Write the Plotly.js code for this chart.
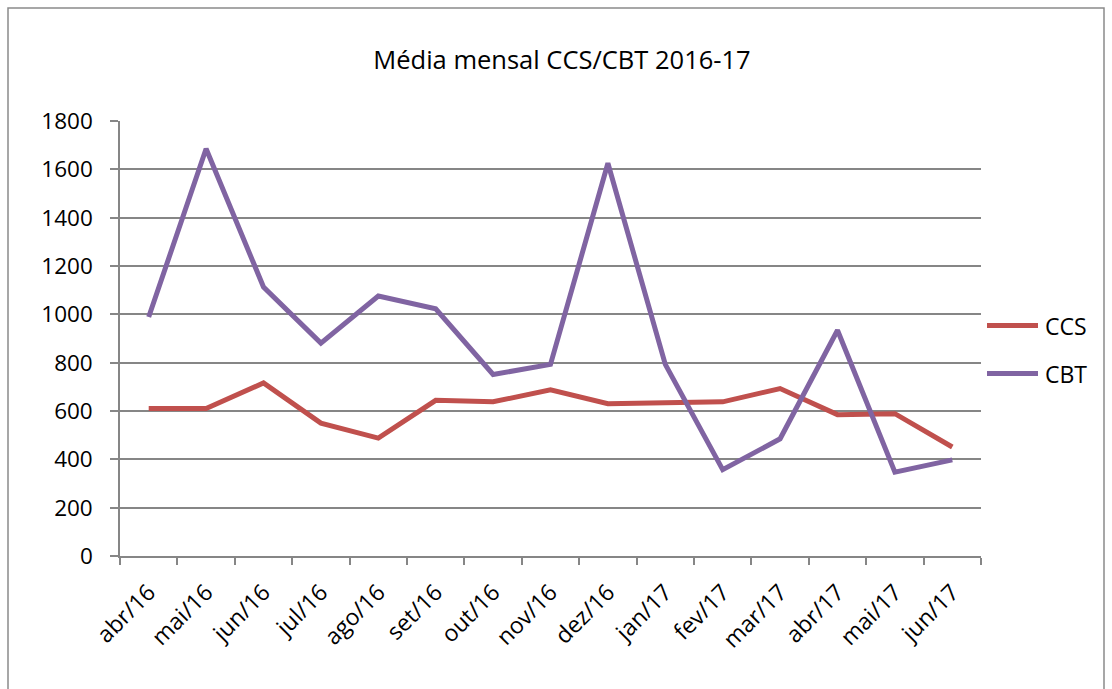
<!DOCTYPE html>
<html>
<head>
<meta charset="utf-8">
<script src="https://cdn.plot.ly/plotly-3.0.1.min.js"></script>
<style>
  html, body { margin: 0; padding: 0; background: #fff; }
  #chart { width: 1112px; height: 689px; }
</style>
</head>
<body>
<div id="chart"></div>
<script>
// Monthly averages, April 2016 to June 2017
const months = ["abr/16", "mai/16", "jun/16", "jul/16", "ago/16", "set/16", "out/16", "nov/16",
                "dez/16", "jan/17", "fev/17", "mar/17", "abr/17", "mai/17", "jun/17"];
const seriesNames = ["CCS", "CBT"];
const ccs = [610, 610, 716, 550, 488, 644, 638, 688, 630, 633, 638, 693, 585, 589, 451];
const cbt = [989, 1685, 1113, 881, 1076, 1023, 751, 793, 1625, 793, 357, 485, 934, 347, 398];
const yTicks = [0, 200, 400, 600, 800, 1000, 1200, 1400, 1600, 1800];
const chartTitle = "Média mensal CCS/CBT 2016-17";

const colors = ["#C0504D", "#8064A2"];
const FONT = "Open Sans, Liberation Sans, sans-serif";
const gridGray = "#868686";

const W = 1112, H = 689;
const margin = { l: 120, r: 131, t: 121, b: 133 };
const plotW = W - margin.l - margin.r;
const plotH = H - margin.t - margin.b;
// convert page pixels to paper coordinates
const px = x => (x - margin.l) / plotW;
const py = y => (H - margin.b - y) / plotH;

const traces = [ccs, cbt].map((vals, i) => ({
  type: "scatter",
  mode: "lines",
  name: seriesNames[i],
  x: months,
  y: vals,
  line: { color: colors[i], width: 5, shape: "linear" },
  hoverinfo: "x+y+name",
  showlegend: false
}));

// legend drawn as short line swatches with labels on the right
const legendY = [325.5, 373.5];
const shapes = [
  // outer chart frame
  { type: "rect", xref: "paper", yref: "paper",
    x0: px(8), x1: px(1104), y0: py(700), y1: py(8),
    line: { color: "#8a8a8a", width: 1.5 }, fillcolor: "rgba(0,0,0,0)", layer: "below" }
];
const annotations = [];
seriesNames.forEach((name, i) => {
  shapes.push({ type: "line", xref: "paper", yref: "paper",
    x0: px(987), x1: px(1038), y0: py(legendY[i]), y1: py(legendY[i]),
    line: { color: colors[i], width: 5 } });
  annotations.push({ xref: "paper", yref: "paper", x: px(1043), y: py(legendY[i]),
    xanchor: "left", yanchor: "middle", showarrow: false, text: name,
    font: { family: FONT, size: 23, color: "#000" } });
});

const layout = {
  width: W, height: H,
  margin: margin,
  paper_bgcolor: "#fff",
  plot_bgcolor: "#fff",
  showlegend: false,
  title: {
    text: chartTitle,
    xref: "container", yref: "container",
    x: 562 / W, y: 1 - 60 / H, xanchor: "center", yanchor: "middle",
    font: { family: FONT, size: 25.5, color: "#000" }
  },
  xaxis: {
    type: "category",
    range: [-0.5, months.length - 0.5],
    tickson: "boundaries",
    ticks: "outside", ticklen: 7, tickwidth: 1.5, tickcolor: gridGray,
    ticklabelstandoff: 12,
    showline: true, linecolor: gridGray, linewidth: 1.5,
    showgrid: false, zeroline: false,
    tickangle: -45,
    tickfont: { family: FONT, size: 23, color: "#000" },
    fixedrange: true
  },
  yaxis: {
    range: [0, 1800],
    tickmode: "array", tickvals: yTicks, ticktext: yTicks.map(String),
    ticks: "outside", ticklen: 8, tickwidth: 1.5, tickcolor: gridGray,
    ticklabelstandoff: 13,
    showline: true, linecolor: gridGray, linewidth: 1.5,
    showgrid: true, gridcolor: gridGray, gridwidth: 1.5,
    zeroline: false,
    tickfont: { family: FONT, size: 22.5, color: "#000" },
    fixedrange: true
  },
  shapes: shapes,
  annotations: annotations
};

Plotly.newPlot("chart", traces, layout, { displayModeBar: false, staticPlot: false });
</script>
</body>
</html>
